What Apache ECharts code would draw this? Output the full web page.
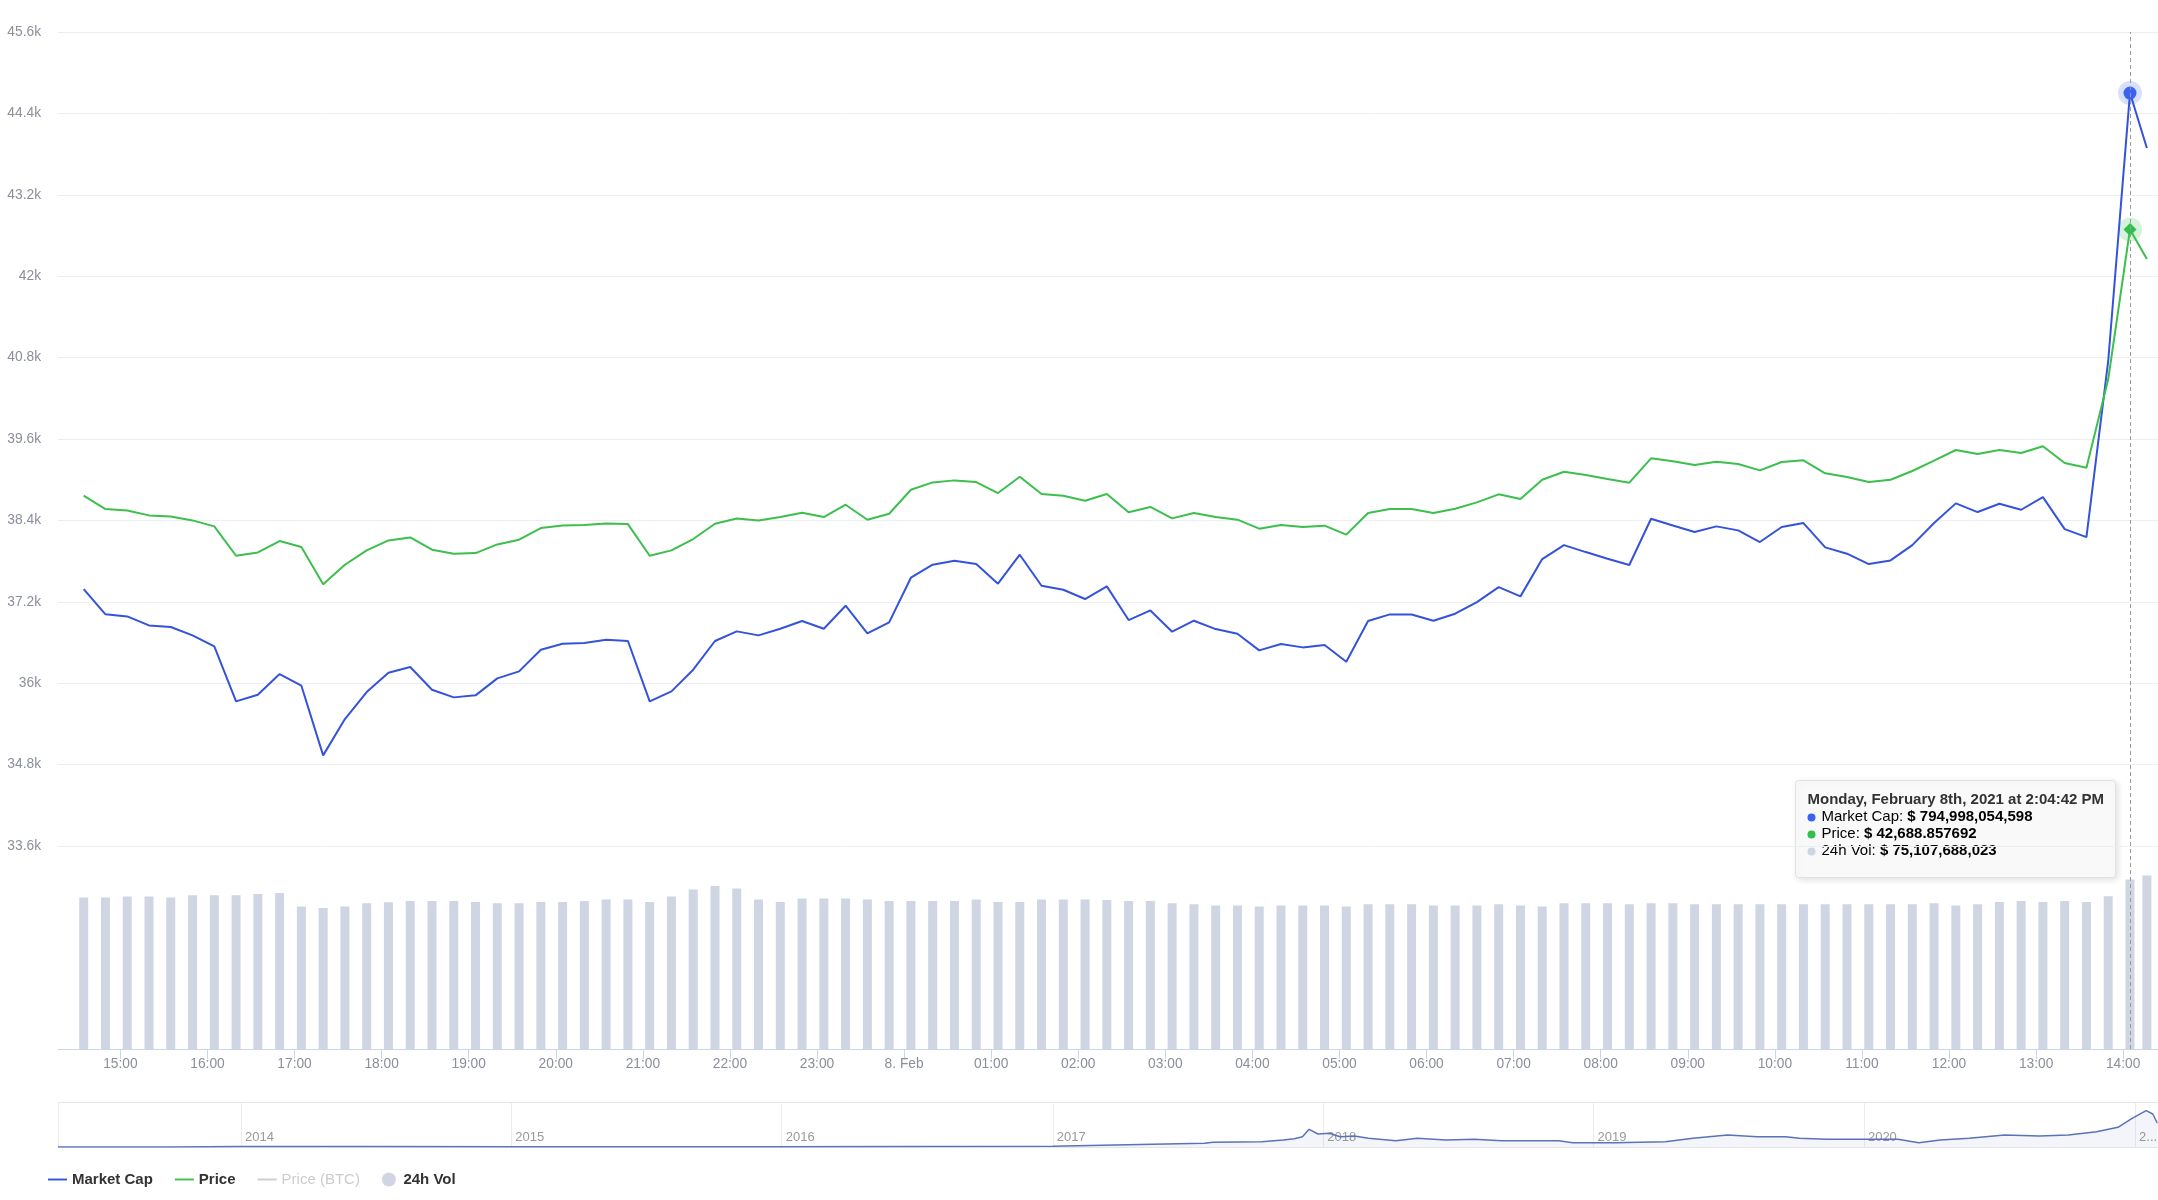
<!DOCTYPE html>
<html>
<head>
<meta charset="utf-8">
<script src="https://cdn.jsdelivr.net/npm/echarts@6/dist/echarts.min.js"></script>
<style>html,body{margin:0;padding:0;background:#fff;overflow:hidden;}#c{width:2158px;height:1200px;}</style>
</head>
<body>
<div id="c"></div>
<script>
// ---- data ----
const times = [
 '2021-02-07 14:34:42','2021-02-07 14:49:42',
 '2021-02-07 15:04:42','2021-02-07 15:19:42','2021-02-07 15:34:42','2021-02-07 15:49:42',
 '2021-02-07 16:04:42','2021-02-07 16:19:42','2021-02-07 16:34:42','2021-02-07 16:49:42',
 '2021-02-07 17:04:42','2021-02-07 17:19:42','2021-02-07 17:34:42','2021-02-07 17:49:42',
 '2021-02-07 18:04:42','2021-02-07 18:19:42','2021-02-07 18:34:42','2021-02-07 18:49:42',
 '2021-02-07 19:04:42','2021-02-07 19:19:42','2021-02-07 19:34:42','2021-02-07 19:49:42',
 '2021-02-07 20:04:42','2021-02-07 20:19:42','2021-02-07 20:34:42','2021-02-07 20:49:42',
 '2021-02-07 21:04:42','2021-02-07 21:19:42','2021-02-07 21:34:42','2021-02-07 21:49:42',
 '2021-02-07 22:04:42','2021-02-07 22:19:42','2021-02-07 22:34:42','2021-02-07 22:49:42',
 '2021-02-07 23:04:42','2021-02-07 23:19:42','2021-02-07 23:34:42','2021-02-07 23:49:42',
 '2021-02-08 00:04:42','2021-02-08 00:19:42','2021-02-08 00:34:42','2021-02-08 00:49:42',
 '2021-02-08 01:04:42','2021-02-08 01:19:42','2021-02-08 01:34:42','2021-02-08 01:49:42',
 '2021-02-08 02:04:42','2021-02-08 02:19:42','2021-02-08 02:34:42','2021-02-08 02:49:42',
 '2021-02-08 03:04:42','2021-02-08 03:19:42','2021-02-08 03:34:42','2021-02-08 03:49:42',
 '2021-02-08 04:04:42','2021-02-08 04:19:42','2021-02-08 04:34:42','2021-02-08 04:49:42',
 '2021-02-08 05:04:42','2021-02-08 05:19:42','2021-02-08 05:34:42','2021-02-08 05:49:42',
 '2021-02-08 06:04:42','2021-02-08 06:19:42','2021-02-08 06:34:42','2021-02-08 06:49:42',
 '2021-02-08 07:04:42','2021-02-08 07:19:42','2021-02-08 07:34:42','2021-02-08 07:49:42',
 '2021-02-08 08:04:42','2021-02-08 08:19:42','2021-02-08 08:34:42','2021-02-08 08:49:42',
 '2021-02-08 09:04:42','2021-02-08 09:19:42','2021-02-08 09:34:42','2021-02-08 09:49:42',
 '2021-02-08 10:04:42','2021-02-08 10:19:42','2021-02-08 10:34:42','2021-02-08 10:49:42',
 '2021-02-08 11:04:42','2021-02-08 11:19:42','2021-02-08 11:34:42','2021-02-08 11:49:42',
 '2021-02-08 12:04:42','2021-02-08 12:19:42','2021-02-08 12:34:42','2021-02-08 12:49:42',
 '2021-02-08 13:04:42','2021-02-08 13:19:42','2021-02-08 13:34:42','2021-02-08 13:49:42',
 '2021-02-08 14:04:42','2021-02-08 14:16:20'
];
// Price in USD
const price = [
 38764,38567,38547,38474,38459,38400,38312,37879,37928,38095,
 38007,37457,37746,37958,38105,38149,37968,37909,37918,38046,
 38115,38287,38326,38331,38356,38346,37879,37958,38125,38351,
 38429,38400,38449,38513,38449,38631,38410,38498,38852,38960,
 38990,38965,38803,39044,38788,38764,38690,38789,38519,38598,
 38430,38509,38450,38411,38278,38332,38303,38322,38190,38509,
 38568,38568,38509,38573,38666,38784,38715,39000,39118,39069,
 39010,38956,39315,39271,39217,39266,39231,39138,39261,39285,
 39094,39040,38966,39000,39128,39281,39438,39379,39438,39394,
 39492,39246,39177,40480,42688.857692,42254
];
// Market cap in billions USD
const marketCap = [
 721.88,718.15,717.85,716.52,716.28,715.05,713.43,705.32,706.30,709.35,
 707.63,697.36,702.72,706.70,709.55,710.38,707.04,705.91,706.21,708.71,
 709.74,712.94,713.82,713.92,714.41,714.22,705.32,706.80,709.99,714.22,
 715.64,715.05,716.03,717.16,716.03,719.42,715.35,716.97,723.55,725.47,
 726.06,725.57,722.67,726.94,722.37,721.78,720.41,722.27,717.31,718.73,
 715.59,717.21,715.98,715.29,712.84,713.77,713.28,713.62,711.17,717.16,
 718.14,718.14,717.21,718.24,719.96,722.17,720.80,726.30,728.36,727.33,
 726.35,725.42,732.25,731.26,730.28,731.12,730.53,728.81,731.02,731.61,
 728.02,727.09,725.56,726.10,728.36,731.61,734.51,733.23,734.46,733.57,
 735.44,730.72,729.54,755.5,794.998054598,786.90
];
// 24h volume in billions USD
const volume = [
 67.13,67.13,67.58,67.58,67.13,68.17,68.17,68.17,68.76,69.20,
 63.14,62.55,63.14,64.62,65.06,65.65,65.65,65.65,65.21,64.62,
 64.62,65.21,65.21,65.65,66.25,66.25,65.21,67.58,70.68,72.31,
 71.13,66.25,65.21,66.69,66.69,66.69,66.25,65.65,65.65,65.65,
 65.65,66.25,65.21,65.21,66.25,66.25,66.25,66.10,65.65,65.65,
 64.62,64.18,63.58,63.58,63.14,63.58,63.58,63.58,63.14,64.18,
 64.18,64.18,63.58,63.58,63.58,64.18,63.58,63.14,64.62,64.62,
 64.62,64.18,64.62,64.62,64.18,64.18,64.18,64.18,64.18,64.18,
 64.18,64.18,64.18,64.18,64.18,64.62,63.58,64.18,65.21,65.65,
 65.21,65.65,65.21,67.73,75.107688023,76.89
];
const hoverIndex = 94;
// Navigator: long-run market cap (billions USD)
const navDates = ['2013-04-29','2013-07-01','2013-10-01','2014-01-01','2014-06-01','2015-01-01','2015-07-01','2016-01-01','2016-07-01','2017-01-01',
 '2017-05-15','2017-07-25','2017-08-05','2017-10-10','2017-11-08','2017-11-23','2017-12-04','2017-12-13','2017-12-25','2018-01-09',
 '2018-01-24','2018-02-12','2018-03-03','2018-04-09','2018-05-08','2018-06-16','2018-07-24','2018-08-30','2018-11-15','2018-12-04',
 '2019-01-30','2019-04-08','2019-05-15','2019-07-01','2019-08-10','2019-09-17','2019-10-06','2019-11-12','2019-12-31','2020-02-16',
 '2020-03-15','2020-04-13','2020-05-22','2020-07-09','2020-08-25','2020-10-03','2020-11-10','2020-12-09','2020-12-28','2021-01-16',
 '2021-01-25','2021-01-31'];
const navCaps = [1.5,1.2,1.6,10,8,4,4,6,10,15,
 54,74,94,106,140,166,206,354,260,274,
 206,220,174,126,174,140,154,126,126,86,
 86,106,174,240,206,206,174,154,154,154,
 86,140,174,240,220,240,306,394,574,726,
 660,480];
const priceTicks = {min: 33600, max: 45600, interval: 1200};

// ---- helpers ----
function toTs(s) {
  const parts = s.split(' ');
  const d = parts[0].split('-').map(Number);
  const t = (parts[1] || '00:00:00').split(':').map(Number);
  return new Date(d[0], d[1] - 1, d[2], t[0], t[1], t[2]).getTime();
}
const ts = times.map(toTs);
const BLUE = '#3453da', GREEN = '#3cbf4c', VOL = '#cfd5e2';
const FONT = 'Arial, "Liberation Sans", sans-serif';

const capData = ts.map((t, i) => i === hoverIndex
  ? {value: [t, marketCap[i]], symbol: 'circle', symbolSize: 13, itemStyle: {color: '#3b63f3'}}
  : [t, marketCap[i]]);
const priceData = ts.map((t, i) => i === hoverIndex
  ? {value: [t, price[i]], symbol: 'diamond', symbolSize: 13, itemStyle: {color: '#2ec04a'}}
  : [t, price[i]]);
const volData = ts.map((t, i) => [t, volume[i]]);
const navData = navDates.map((d, i) => [toTs(d), navCaps[i]]);

// tooltip text built from the hovered data
const hd = new Date(ts[hoverIndex]);
const WD = ['Sunday','Monday','Tuesday','Wednesday','Thursday','Friday','Saturday'];
const MN = ['January','February','March','April','May','June','July','August','September','October','November','December'];
function ord(n){ if (n % 100 >= 11 && n % 100 <= 13) return 'th'; return ['th','st','nd','rd'][n % 10] || 'th'; }
const h12 = hd.getHours() % 12 || 12;
const pad = n => String(n).padStart(2, '0');
const title = WD[hd.getDay()] + ', ' + MN[hd.getMonth()] + ' ' + hd.getDate() + ord(hd.getDate()) + ', ' + hd.getFullYear() +
  ' at ' + h12 + ':' + pad(hd.getMinutes()) + ':' + pad(hd.getSeconds()) + ' ' + (hd.getHours() >= 12 ? 'PM' : 'AM');
const fmtInt = v => Math.round(v).toLocaleString('en-US');
const capTxt = '$ ' + fmtInt(marketCap[hoverIndex] * 1e9);
const priceTxt = '$ ' + price[hoverIndex].toLocaleString('en-US', {minimumFractionDigits: 6, maximumFractionDigits: 6});
const volTxt = '$ ' + fmtInt(volume[hoverIndex] * 1e9);

// layout
const GRID_LEFT = 58, GRID_W = 2100, BAR_W = 9;
const tMin = new Date(2021, 1, 7, 14, 17, 0).getTime();
const tMax = new Date(2021, 1, 8, 14, 24, 0).getTime();
// ECharts widens a time axis that carries bars by the bar width; pre-shrink so both grids share one scale
const barPad = (tMax - tMin) * (BAR_W / 2) / GRID_W;
const HOUR = 3600 * 1000;
const YEAR = 365.25 * 24 * HOUR;

const chart = echarts.init(document.getElementById('c'), null, {renderer: 'canvas'});
const linePath = 'path://M0,0L20,0L20,2L0,2Z';

const rowRich = {
  n: {fontSize: 15, color: '#444', fontFamily: FONT},
  v: {fontSize: 15, fontWeight: 'bold', color: '#333', fontFamily: FONT}
};
function row(y, label, val) {
  return {type: 'text', x: 26, y: y, style: {text: '{n|' + label + ' }{v|' + val + '}', lineHeight: 17, rich: rowRich}};
}
function dot(y, color) {
  return {type: 'circle', shape: {cx: 16, cy: y, r: 4}, style: {fill: color}};
}

chart.setOption({
  animation: false,
  backgroundColor: '#fff',
  textStyle: {fontFamily: FONT},
  grid: [
    {left: GRID_LEFT, width: GRID_W, top: 32, height: 814, outerBoundsMode: 'none', containLabel: false},
    {left: GRID_LEFT, width: GRID_W, top: 846, height: 203, outerBoundsMode: 'none', containLabel: false},
    {left: GRID_LEFT, width: GRID_W, top: 1102, height: 45, outerBoundsMode: 'none', containLabel: false}
  ],
  xAxis: [
    {type: 'time', gridIndex: 0, min: tMin, max: tMax, show: false},
    {type: 'time', gridIndex: 1, min: tMin + barPad, max: tMax - barPad, minInterval: HOUR, maxInterval: HOUR,
      axisLine: {show: true, lineStyle: {color: '#ccd6eb', width: 1}},
      axisTick: {show: true, length: 10, lineStyle: {color: '#ccd6eb'}},
      splitLine: {show: false},
      axisLabel: {show: true, color: '#8a8f99', fontSize: 13.75, fontFamily: FONT, margin: 8, hideOverlap: false,
        formatter: function (v) {
          const d = new Date(v);
          if (d.getHours() === 0 && d.getMinutes() === 0) return d.getDate() + '. ' + MN[d.getMonth()].slice(0, 3);
          return pad(d.getHours()) + ':' + pad(d.getMinutes());
        }}
    },
    {type: 'time', gridIndex: 2, min: toTs('2013-04-29'), max: toTs('2021-02-01'), minInterval: YEAR, maxInterval: YEAR,
      axisLine: {show: false}, axisTick: {show: false},
      splitLine: {show: true, lineStyle: {color: '#ececec', width: 1}},
      axisLabel: {show: true, inside: true, align: 'left', margin: 3, padding: [0, 0, 0, 4],
        color: '#999', fontSize: 13, fontFamily: FONT, hideOverlap: false,
        formatter: function (v) {
          const y = new Date(v).getFullYear();
          return y === 2021 ? '2...' : String(y);
        }}
    }
  ],
  yAxis: [
    {type: 'value', gridIndex: 0, min: priceTicks.min, max: priceTicks.max, interval: priceTicks.interval,
      axisLine: {show: false}, axisTick: {show: false},
      splitLine: {show: true, lineStyle: {color: '#eceef2', width: 1}},
      axisLabel: {color: '#8a8f99', fontSize: 13.75, fontFamily: FONT, margin: 17,
        formatter: v => (v / 1000) + 'k'}
    },
    {type: 'value', gridIndex: 0, min: 684, max: 804, interval: 12, show: false, splitLine: {show: false}},
    {type: 'value', gridIndex: 1, min: 0, max: 90, show: false, splitLine: {show: false}},
    {type: 'value', gridIndex: 2, min: 0, max: 900, interval: 900, axisLabel: {show: false},
      axisLine: {show: false}, axisTick: {show: false},
      splitLine: {show: true, lineStyle: {color: '#e6e6e6'}}}
  ],
  legend: {
    left: 43, top: 1167, orient: 'horizontal',
    itemWidth: 19, itemHeight: 14, itemGap: 22,
    inactiveColor: '#cccccc',
    textStyle: {fontSize: 15, fontWeight: 'bold', color: '#333', fontFamily: FONT},
    selected: {'Price (BTC)': false},
    data: [
      {name: 'Market Cap', icon: linePath, itemStyle: {color: BLUE}},
      {name: 'Price', icon: linePath, itemStyle: {color: GREEN}},
      {name: 'Price (BTC)', icon: linePath, itemStyle: {color: '#bbb'}, textStyle: {fontWeight: 'normal'}},
      {name: '24h Vol', icon: 'circle', itemStyle: {color: VOL}}
    ]
  },
  series: [
    {name: '24h Vol', type: 'bar', xAxisIndex: 1, yAxisIndex: 2, data: volData, barWidth: BAR_W,
      itemStyle: {color: VOL}, silent: true, z: 1,
      markLine: {silent: true, symbol: ['none', 'none'], label: {show: false},
        lineStyle: {type: [4, 3], color: '#9a9a9a', width: 1},
        data: [{xAxis: ts[hoverIndex]}]}
    },
    {name: 'capHalo', type: 'scatter', xAxisIndex: 0, yAxisIndex: 1, silent: true, z: 3,
      data: [[ts[hoverIndex], marketCap[hoverIndex]]], symbol: 'circle', symbolSize: 24,
      itemStyle: {color: 'rgba(59,99,243,0.25)'}},
    {name: 'priceHalo', type: 'scatter', xAxisIndex: 0, yAxisIndex: 0, silent: true, z: 3,
      data: [[ts[hoverIndex], price[hoverIndex]]], symbol: 'circle', symbolSize: 24,
      itemStyle: {color: 'rgba(46,192,74,0.25)'}},
    {name: 'Market Cap', type: 'line', xAxisIndex: 0, yAxisIndex: 1, data: capData,
      symbol: 'none', showSymbol: true, showAllSymbol: true, z: 4,
      lineStyle: {color: BLUE, width: 2}, itemStyle: {color: BLUE},
      markLine: {silent: true, symbol: ['none', 'none'], label: {show: false},
        lineStyle: {type: [4, 3], color: '#9a9a9a', width: 1},
        data: [{xAxis: ts[hoverIndex]}]}
    },
    {name: 'Price', type: 'line', xAxisIndex: 0, yAxisIndex: 0, data: priceData,
      symbol: 'none', showSymbol: true, showAllSymbol: true, z: 4,
      lineStyle: {color: GREEN, width: 2}, itemStyle: {color: GREEN}},
    {name: 'Price (BTC)', type: 'line', xAxisIndex: 0, yAxisIndex: 0, data: [],
      lineStyle: {color: '#bbb'}, itemStyle: {color: '#bbb'}},
    {name: 'navigator', type: 'line', xAxisIndex: 2, yAxisIndex: 3, data: navData,
      symbol: 'none', silent: true,
      lineStyle: {color: '#5a73b8', width: 1.5},
      areaStyle: {color: 'rgba(90,115,184,0.10)'}}
  ],
  graphic: [
    {type: 'group', left: 1795, top: 780, z: 100, children: [
      {type: 'rect', shape: {x: 0, y: 0, width: 320, height: 97, r: 3},
        style: {fill: 'rgba(250,250,250,0.97)', stroke: '#e2e2e2', lineWidth: 1,
          shadowBlur: 6, shadowOffsetX: 2, shadowOffsetY: 2, shadowColor: 'rgba(0,0,0,0.12)'}},
      {type: 'text', x: 12, y: 11, style: {text: title, fontSize: 15, fontWeight: 'bold', fill: '#333', fontFamily: FONT, lineHeight: 17}},
      dot(37, '#3b63f3'), row(28, 'Market Cap:', capTxt),
      dot(54, '#2ec04a'), row(45, 'Price:', priceTxt),
      dot(71, VOL), row(62, '24h Vol:', volTxt)
    ]}
  ]
});
</script>
</body>
</html>
